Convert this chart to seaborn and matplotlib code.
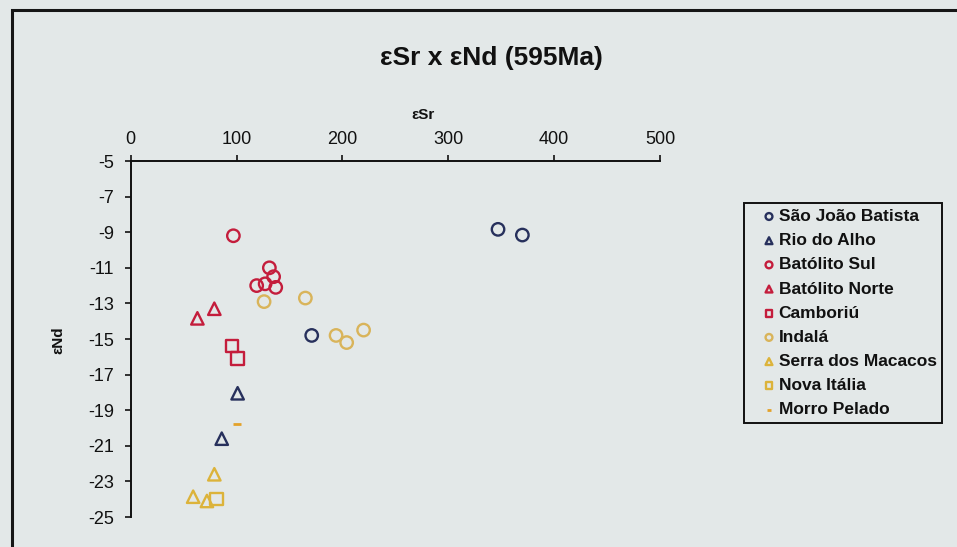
import matplotlib
matplotlib.use("Agg")
import matplotlib.pyplot as plt
import seaborn as sns
import numpy as np
from matplotlib.patches import Rectangle

# ---- data ----
sjb_x = [347, 370, 171]
sjb_y = [-8.84, -9.16, -14.8]
rda_x = [101, 86]
rda_y = [-18.05, -20.6]
bsul_x = [97, 131, 135, 119, 127, 137]
bsul_y = [-9.2, -11.0, -11.5, -12.0, -11.9, -12.1]
bnorte_x = [63, 79]
bnorte_y = [-13.84, -13.3]
camb_x = [95.5, 101]
camb_y = [-15.4, -16.1]
indala_x = [126, 165, 194, 204, 220]
indala_y = [-12.9, -12.7, -14.8, -15.2, -14.5]
serra_x = [79, 59, 72]
serra_y = [-22.6, -23.86, -24.1]
nova_x = [81]
nova_y = [-24.0]
morro_x = [100]
morro_y = [-19.8]

series_names = ["São João Batista", "Rio do Alho", "Batólito Sul", "Batólito Norte",
                "Camboriú", "Indalá", "Serra dos Macacos", "Nova Itália", "Morro Pelado"]
x_ticks = [0, 100, 200, 300, 400, 500]
y_ticks = [-5, -7, -9, -11, -13, -15, -17, -19, -21, -23, -25]

sns.set_theme(style="white")
plt.rcParams['font.family'] = ['Liberation Sans', 'DejaVu Sans']
plt.rcParams['axes.unicode_minus'] = False

bg = "#e3e8e8"
fig = plt.figure(figsize=(9.57, 5.47), dpi=100, facecolor=bg)
ax = fig.add_axes([130.7/957, 1-517/547, (660-130.7)/957, (517-161)/547])
ax.set_facecolor(bg)

navy = "#27305c"
red = "#c41d3c"
gold = "#d9b45a"
yellow = "#dcb33a"
orange = "#e3a22a"

specs = [
    (sjb_x, sjb_y, "o", navy, series_names[0]),
    (rda_x, rda_y, "^", navy, series_names[1]),
    (bsul_x, bsul_y, "o", red, series_names[2]),
    (bnorte_x, bnorte_y, "^", red, series_names[3]),
    (camb_x, camb_y, "s", red, series_names[4]),
    (indala_x, indala_y, "o", gold, series_names[5]),
    (serra_x, serra_y, "^", yellow, series_names[6]),
    (nova_x, nova_y, "s", yellow, series_names[7]),
]
for xs, ys, m, c, name in specs:
    sns.scatterplot(x=xs, y=ys, marker=m, s=80, facecolors="none", edgecolor=c,
                    linewidth=1.7, label=name, ax=ax, zorder=3)
sns.scatterplot(x=morro_x, y=morro_y, marker="_", s=30, color=orange, linewidth=2.0,
                label=series_names[8], ax=ax, zorder=3)

ax.set_xlim(0, 500)
ax.set_ylim(-25, -5)
ax.set_xticks(x_ticks)
ax.set_yticks(y_ticks)
ax.xaxis.tick_top()
ax.xaxis.set_label_position("top")
for s in ["right", "bottom"]:
    ax.spines[s].set_visible(False)
for s in ["left", "top"]:
    ax.spines[s].set_color("#111111")
    ax.spines[s].set_linewidth(1.4)
ax.tick_params(axis="x", which="major", direction="out", length=4, width=1.2,
               color="#111111", labelsize=13, pad=5, top=True, bottom=False,
               labeltop=True, labelbottom=False)
ax.tick_params(axis="y", which="major", direction="out", length=4, width=1.2,
               color="#111111", labelsize=13, pad=8, left=True)
for lab in ax.get_xticklabels() + ax.get_yticklabels():
    lab.set_color("#111111")

ax.set_xlabel("εSr", fontsize=11, fontweight="bold", color="#111111")
ax.xaxis.set_label_coords((423-130.7)/(660-130.7), (161-119)/(517-161) + 1.0)
ax.set_ylabel("εNd", fontsize=11, fontweight="bold", color="#111111")
ax.yaxis.set_label_coords(-(130.7-65)/(660-130.7), 1-(340-161)/(517-161))

fig.text(491/957, 1-58/547, "εSr x εNd (595Ma)", ha="center", va="center",
         fontsize=19, fontweight="bold", color="#111111")

leg = ax.legend(loc="upper left", bbox_to_anchor=(744/957, 1-203/547),
                bbox_transform=fig.transFigure, borderaxespad=0, frameon=True,
                fancybox=False, edgecolor="#111111", facecolor=bg, framealpha=1,
                markerscale=0.55, handlelength=2.2, handletextpad=-0.55,
                labelspacing=0.52, borderpad=0.34,
                prop={"weight": "bold", "size": 12.5})
leg.get_frame().set_linewidth(1.4)
for t in leg.get_texts():
    t.set_color("#111111")

frame = Rectangle((12/957, -0.2), 1.2, 1 - 10/547 + 0.2, transform=fig.transFigure,
                  fill=False, edgecolor="#161616", linewidth=2.2, clip_on=False)
fig.patches.append(frame)

fig.savefig("out.png", dpi=100, facecolor=bg)
